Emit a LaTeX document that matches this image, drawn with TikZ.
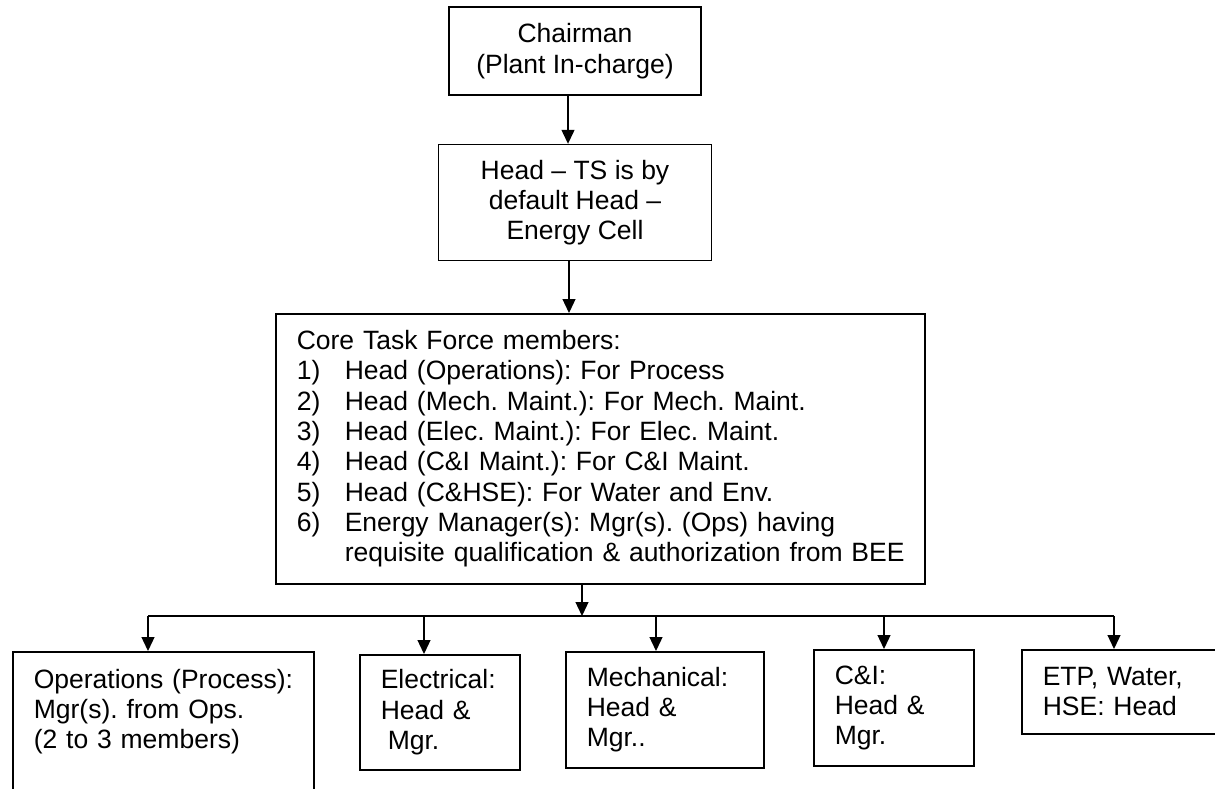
\documentclass[tikz,border=0pt]{standalone}
\usepackage{fontspec}
\setmainfont{Liberation Sans}
\usetikzlibrary{arrows.meta,positioning}
\frenchspacing

\begin{document}
\begin{tikzpicture}[x=1pt,y=-1pt,
font=\fontsize{26.5}{30.3}\selectfont,
node distance=48pt,
box/.style={draw,line width=1.6pt,inner sep=0pt,align=center},
lbox/.style={box,anchor=north west,align=left},
arrow/.style={-{Triangle[length=14pt,width=13pt]},line width=1.3pt}]
\fill[white] (0,0) rectangle (1215,789);
\useasboundingbox (0,0) rectangle (1215,789);
\node[box,minimum width=252pt,minimum height=88pt] (chair) at (575,51) {Chairman\\(Plant In-charge)};
\node[box,below=of chair,minimum width=273pt,minimum height=116pt] (head) {Head -- TS is by\\default Head --\\Energy Cell};
\node[lbox,minimum width=649pt,minimum height=270pt,text width=607pt] (core) at (275,313) {Core Task Force members:\\
\makebox[48pt][l]{1)}Head (Operations): For Process\\
\makebox[48pt][l]{2)}Head (Mech. Maint.): For Mech. Maint.\\
\makebox[48pt][l]{3)}Head (Elec. Maint.): For Elec. Maint.\\
\makebox[48pt][l]{4)}Head (C\&I Maint.): For C\&I Maint.\\
\makebox[48pt][l]{5)}Head (C\&HSE): For Water and Env.\\
\makebox[48pt][l]{6)}\mbox{Energy Manager(s): Mgr(s). (Ops) having}\\
\hspace*{48pt}\mbox{requisite qualification \& authorization from BEE}};
% bottom row
\node[lbox,minimum width=301pt,text width=259pt,inner ysep=17pt,text depth=100pt] (ops) at (12,651) {\mbox{Operations (Process):}\\Mgr(s). from Ops.\\(2 to 3 members)};
\node[lbox,minimum width=160pt,minimum height=115pt,text width=118pt] (elec) at (359,654) {Electrical:\\Head \&\\\hspace*{7pt}Mgr.};
\node[lbox,minimum width=198pt,minimum height=116pt,text width=156pt] (mech) at (565,651) {Mechanical:\\Head \&\\Mgr..};
\node[lbox,minimum width=160pt,minimum height=116pt,text width=118pt] (ci) at (813,649) {C\&I:\\Head \&\\Mgr.};
\node[lbox,minimum width=220pt,minimum height=84pt,text width=178pt] (etp) at (1021,649) {ETP, Water,\\HSE: Head};
% connectors
\coordinate (cs) at ([xshift=-7pt]chair.south);
\coordinate (hs) at ([xshift=-6pt]head.south);
\coordinate (bus) at (582,616);
\coordinate (t-ops) at (148,616);
\coordinate (t-elec) at (424,616);
\coordinate (t-mech) at (656,616);
\coordinate (t-ci) at (884,616);
\coordinate (t-etp) at (1114,616);
\draw[arrow] (cs) -- (cs |- head.north);
\draw[arrow] (hs) -- (hs |- core.north);
\draw[arrow] (core.south -| bus) -- (bus);
\draw[line width=1.3pt] (t-ops) -- (t-etp);
\foreach \n in {ops,elec,mech,ci,etp}
  \draw[arrow] (t-\n) -- (t-\n |- \n.north);
\end{tikzpicture}
\end{document}
